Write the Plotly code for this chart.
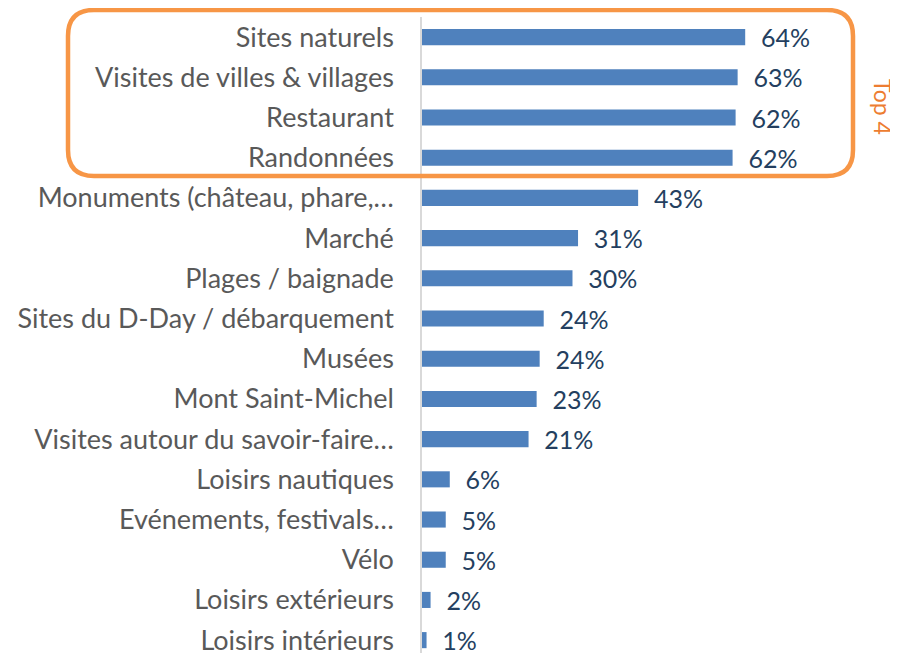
import plotly.graph_objects as go

categories = [
    "Sites naturels",
    "Visites de villes & villages",
    "Restaurant",
    "Randonnées",
    "Monuments (château, phare,…",
    "Marché",
    "Plages / baignade",
    "Sites du D-Day / débarquement",
    "Musées",
    "Mont Saint-Michel",
    "Visites autour du savoir-faire…",
    "Loisirs nautiques",
    "Evénements, festivals…",
    "Vélo",
    "Loisirs extérieurs",
    "Loisirs intérieurs",
]
values = [64.0, 62.5, 62.1, 61.5, 42.8, 30.9, 29.8, 24.1, 23.3, 22.7, 21.1, 5.5, 4.7, 4.7, 1.7, 0.9]
value_labels = ["64%", "63%", "62%", "62%", "43%", "31%", "30%", "24%", "24%", "23%",
                "21%", "6%", "5%", "5%", "2%", "1%"]
highlight_label = "Top 4"

OFF = 8  # page body margin
W, H = 898 - OFF, 653 - OFF
ML, MR, MT, MB = 422 - OFF, 18, 17 - OFF, 0
PW, PH = W - ML - MR, H - MT - MB
px_per_pct = 5.05
xmax = PW / px_per_pct

def px_x(px):
    return (px - OFF - ML) / PW

def px_y(py):
    return (H - MB - (py - OFF)) / PH

fig = go.Figure()
fig.add_trace(go.Bar(
    y=categories,
    x=values,
    orientation="h",
    marker=dict(color="#4F81BD", line=dict(width=0)),
    text=["  " + t for t in value_labels],
    textposition="outside",
    constraintext="none",
    cliponaxis=False,
    textfont=dict(family="Lato", size=25, color="#243F60"),
    hoverinfo="skip",
))

# rounded rectangle around top 4 (pixel geometry converted to paper coords)
L, R, T, B, r = 68, 853, 10, 176, 26
path = (
    f"M {px_x(L + r)},{px_y(T)} L {px_x(R - r)},{px_y(T)} "
    f"Q {px_x(R)},{px_y(T)} {px_x(R)},{px_y(T + r)} "
    f"L {px_x(R)},{px_y(B - r)} Q {px_x(R)},{px_y(B)} {px_x(R - r)},{px_y(B)} "
    f"L {px_x(L + r)},{px_y(B)} Q {px_x(L)},{px_y(B)} {px_x(L)},{px_y(B - r)} "
    f"L {px_x(L)},{px_y(T + r)} Q {px_x(L)},{px_y(T)} {px_x(L + r)},{px_y(T)} Z"
)
fig.add_shape(type="path", path=path, xref="paper", yref="paper",
              line=dict(color="#F79646", width=4.5), layer="above")

fig.add_annotation(
    text=highlight_label, xref="paper", yref="paper",
    x=px_x(883), y=px_y(107), showarrow=False, textangle=90,
    font=dict(family="Lato", size=23, color="#ED7D31"),
    xanchor="center", yanchor="middle",
)

fig.update_layout(
    width=W, height=H,
    margin=dict(l=ML, r=MR, t=MT, b=MB, pad=0),
    paper_bgcolor="white", plot_bgcolor="white",
    showlegend=False,
    bargap=0.6,
    font=dict(family="Lato"),
)
fig.update_xaxes(range=[0, xmax], visible=False, fixedrange=True)
fig.update_yaxes(
    range=[len(categories) - 1 + 0.32, -0.5],
    showline=True, linecolor="#D9D9D9", linewidth=1.5,
    ticks="", ticklabelstandoff=21,
    tickfont=dict(family="Lato", size=27, color="#595959"),
    showgrid=False, zeroline=False, fixedrange=True,
    automargin=False,
)

fig.write_html("out.html")
